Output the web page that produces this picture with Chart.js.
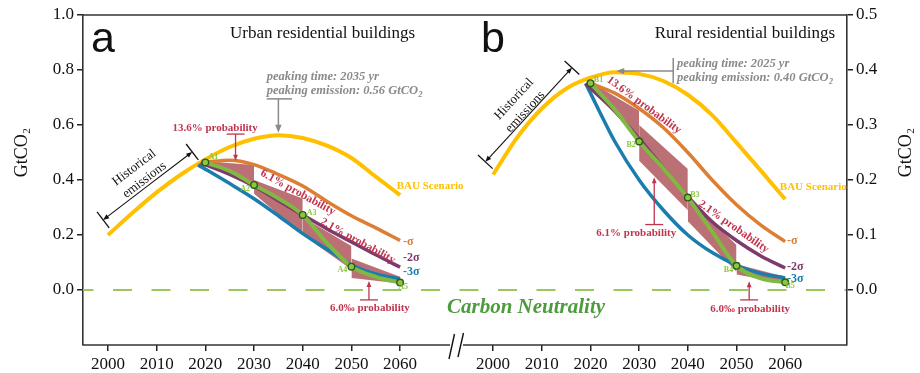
<!DOCTYPE html>
<html>
<head>
<meta charset="utf-8">
<script src="https://cdn.jsdelivr.net/npm/chart.js@4.4.1/dist/chart.umd.min.js"></script>
<style>
  html, body { margin: 0; padding: 0; background: #fff; }
  #wrap { position: relative; width: 920px; height: 373px; }
  #wrap canvas { position: absolute; left: 0; top: 0; }
</style>
</head>
<body>
<div id="wrap">
  <canvas id="urban" width="920" height="373"></canvas>
  <canvas id="rural" width="920" height="373"></canvas>
</div>
<script>
// ---- axis ticks ----
const xTickYears = [2000, 2010, 2020, 2030, 2040, 2050, 2060];
const urbanTickValues = [0, 0.2, 0.4, 0.6, 0.8, 1.0];
const ruralTickValues = [0, 0.1, 0.2, 0.3, 0.4, 0.5];

// ---- business-as-usual trajectories (GtCO2) ----
const bauYears = [2000, 2005, 2010, 2015, 2020, 2025, 2030, 2035, 2040, 2045, 2050, 2055, 2060];
const urbanBAU = [0.200, 0.280, 0.355, 0.420, 0.475, 0.520, 0.550, 0.563, 0.553, 0.525, 0.480, 0.412, 0.345];
const ruralBAU = [0.210, 0.278, 0.330, 0.366, 0.386, 0.396, 0.393, 0.380, 0.355, 0.318, 0.268, 0.217, 0.165];

// ---- -sigma scenarios ----
const pathYears = [2020, 2025, 2030, 2035, 2040, 2045, 2050, 2055, 2060];
const urbanSigma1 = [0.465, 0.472, 0.456, 0.420, 0.378, 0.322, 0.270, 0.226, 0.180];
const ruralSigma1 = [0.376, 0.358, 0.330, 0.295, 0.250, 0.200, 0.155, 0.118, 0.088];

// ---- -2 sigma scenarios ----
const sigma2Years = [2019, 2025, 2030, 2035, 2040, 2045, 2050, 2055, 2060];
const urbanSigma2 = [0.462, 0.420, 0.377, 0.325, 0.273, 0.222, 0.175, 0.128, 0.083];
const ruralSigma2 = [0.375, 0.325, 0.275, 0.222, 0.170, 0.124, 0.090, 0.062, 0.040];

// ---- -3 sigma scenarios ----
const urbanSigma3Years = [2018.5, 2025, 2030, 2035, 2040, 2045, 2050, 2055, 2060];
const urbanSigma3 = [0.455, 0.387, 0.332, 0.270, 0.205, 0.148, 0.092, 0.058, 0.040];
const ruralSigma3Years = [2019, 2022, 2025, 2030, 2035, 2040, 2045, 2050, 2055, 2060];
const ruralSigma3 = [0.376, 0.322, 0.270, 0.200, 0.145, 0.100, 0.068, 0.045, 0.030, 0.022];

// ---- optimal pathway (decade points are the named nodes) ----
const urbanPath = [0.464, 0.433, 0.382, 0.333, 0.273, 0.170, 0.085, 0.048, 0.027];
const ruralPath = [0.376, 0.328, 0.270, 0.221, 0.168, 0.106, 0.044, 0.021, 0.014];
const urbanPathNames = ['A1', 'A2', 'A3', 'A4', 'A5'];
const ruralPathNames = ['B1', 'B2', 'B3', 'B4', 'B5'];

// ---- probability bands per decade ----
const bandYears = [[2020, 2030], [2030, 2040], [2040, 2050], [2050, 2060]];
const urbanBandHigh = [[0.468, 0.455], [0.400, 0.333], [0.265, 0.160], [0.115, 0.048]];
const urbanBandLow  = [[0.462, 0.382], [0.350, 0.200], [0.200, 0.075], [0.044, 0.024]];
const ruralBandHigh = [[0.378, 0.326], [0.300, 0.220], [0.168, 0.082], [0.047, 0.024]];
const ruralBandLow  = [[0.374, 0.270], [0.235, 0.145], [0.125, 0.033], [0.028, 0.012]];

const SERIF = '"Liberation Serif", "Times New Roman", serif';
const SANS = '"Liberation Sans", Arial, sans-serif';
const COL = {
  bau: '#FFC000', s1: '#DC7F34', s2: '#7D3B6C', s3: '#1B7DAE', path: '#80B842',
  band: 'rgba(178,92,98,0.88)', red: '#C0344E', grey: '#8A8A8A',
  neutral: '#4E9A3F', zero: '#9CC75C', axis: '#333', node: '#8DC63F'
};

function series(xs, ys) { return xs.map((x, i) => ({ x: x, y: ys[i] })); }
function curve(xs, ys, color, width, order) {
  return { data: series(xs, ys), borderColor: color, borderWidth: width, pointRadius: 0,
           cubicInterpolationMode: 'monotone', fill: false, order: order };
}
function bands(highs, lows) {
  const out = [];
  bandYears.forEach((yrs, i) => {
    out.push({ data: series(yrs, highs[i]), borderWidth: 0, pointRadius: 0, fill: '+1',
               backgroundColor: COL.band, order: 10 });
    out.push({ data: series(yrs, lows[i]), borderWidth: 0, pointRadius: 0, fill: false, order: 10 });
  });
  return out;
}

// ---- drawing helpers ----
function txt(ctx, s, x, y, font, color, align, base) {
  ctx.save(); ctx.font = font; ctx.fillStyle = color;
  ctx.textAlign = align || 'left'; ctx.textBaseline = base || 'alphabetic';
  ctx.fillText(s, x, y); ctx.restore();
}
function rotTxt(ctx, s, x, y, deg, font, color) {
  ctx.save(); ctx.translate(x, y); ctx.rotate(deg * Math.PI / 180);
  ctx.font = font; ctx.fillStyle = color; ctx.textAlign = 'center'; ctx.textBaseline = 'middle';
  ctx.fillText(s, 0, 0); ctx.restore();
}
function subTxt(ctx, main, sub, x, y, size, style, color, align) {
  ctx.save(); ctx.fillStyle = color; ctx.textBaseline = 'alphabetic'; ctx.textAlign = 'left';
  ctx.font = style + ' ' + size + 'px ' + SERIF;
  const w1 = ctx.measureText(main).width;
  ctx.font = style + ' ' + Math.round(size * 0.62) + 'px ' + SERIF;
  const w2 = ctx.measureText(sub).width;
  let x0 = align === 'center' ? x - (w1 + w2) / 2 : x;
  ctx.font = style + ' ' + size + 'px ' + SERIF;
  ctx.fillText(main, x0, y);
  ctx.font = style + ' ' + Math.round(size * 0.62) + 'px ' + SERIF;
  ctx.fillText(sub, x0 + w1 + 0.5, y + size * 0.22);
  ctx.restore();
}
function head(ctx, x1, y1, x2, y2, size, color) {
  const a = Math.atan2(y2 - y1, x2 - x1), c = Math.cos(a), s = Math.sin(a);
  ctx.save(); ctx.fillStyle = color; ctx.beginPath();
  ctx.moveTo(x2, y2);
  ctx.lineTo(x2 - size * c + size * 0.4 * s, y2 - size * s - size * 0.4 * c);
  ctx.lineTo(x2 - size * c - size * 0.4 * s, y2 - size * s + size * 0.4 * c);
  ctx.closePath(); ctx.fill(); ctx.restore();
}
function line(ctx, x1, y1, x2, y2, color, width) {
  ctx.save(); ctx.strokeStyle = color; ctx.lineWidth = width;
  ctx.beginPath(); ctx.moveTo(x1, y1); ctx.lineTo(x2, y2); ctx.stroke(); ctx.restore();
}
function arrow(ctx, x1, y1, x2, y2, color, width, size) {
  const a = Math.atan2(y2 - y1, x2 - x1);
  line(ctx, x1, y1, x2 - size * 0.7 * Math.cos(a), y2 - size * 0.7 * Math.sin(a), color, width);
  head(ctx, x1, y1, x2, y2, size, color);
}
// pointer with a flat bar at its tail
function tBar(ctx, cx, barY, tipY, half, color) {
  line(ctx, cx - half, barY, cx + half, barY, color, 1.3);
  arrow(ctx, cx, barY, cx, tipY, color, 1.3, 6);
}
// double-headed span with end stops
function span(ctx, p1, p2) {
  const a = Math.atan2(p2[1] - p1[1], p2[0] - p1[0]);
  const nx = -Math.sin(a), ny = Math.cos(a), L = 10;
  const mx = (p1[0] + p2[0]) / 2, my = (p1[1] + p2[1]) / 2;
  arrow(ctx, mx, my, p1[0], p1[1], '#111', 1.1, 6);
  arrow(ctx, mx, my, p2[0], p2[1], '#111', 1.1, 6);
  [p1, p2].forEach(p => line(ctx, p[0] - nx * L, p[1] - ny * L, p[0] + nx * L, p[1] + ny * L, '#111', 1.3));
}
function yTitle(ctx, x, y) {
  ctx.save(); ctx.translate(x, y); ctx.rotate(-Math.PI / 2);
  ctx.fillStyle = '#111'; ctx.textBaseline = 'middle'; ctx.textAlign = 'left';
  ctx.font = '18px ' + SERIF; const w1 = ctx.measureText('GtCO').width;
  ctx.font = '11px ' + SERIF; const w2 = ctx.measureText('2').width;
  const x0 = -(w1 + w2) / 2;
  ctx.font = '18px ' + SERIF; ctx.fillText('GtCO', x0, 0);
  ctx.font = '11px ' + SERIF; ctx.fillText('2', x0 + w1 + 0.5, 5);
  ctx.restore();
}
function nodeLabels(chart, names, offsets) {
  const meta = chart.getDatasetMeta(0);
  let k = 0;
  meta.data.forEach((el, i) => {
    if (chart.data.datasets[0].data[i].x % 10 !== 0) return;
    const o = offsets[k];
    txt(chart.ctx, names[k], el.x + o[0], el.y + o[1], 'bold 8px ' + SERIF, COL.node, 'center', 'middle');
    k++;
  });
}

function drawUrban(chart) {
  const ctx = chart.ctx, a = chart.chartArea;
  const P = (x, y) => [chart.scales.x.getPixelForValue(x), chart.scales.y.getPixelForValue(y)];
  // frame
  line(ctx, a.left, a.top, a.right, a.top, COL.axis, 1.6);
  line(ctx, a.left, a.bottom, 450, a.bottom, COL.axis, 1.6);
  line(ctx, 449, 359, 454.5, 334, '#111', 1.4);
  line(ctx, 458, 357, 463.5, 333, '#111', 1.4);
  // titles
  txt(ctx, 'a', 91, 52, '43px ' + SANS, '#111');
  txt(ctx, 'Urban residential buildings', 230, 38, '17px ' + SERIF, '#111');
  yTitle(ctx, 22, 153);
  // peak annotation
  subTxt(ctx, 'peaking time: 2035 yr', '', ...P(2032.6, 0.764), 12.5, 'italic bold', COL.grey);
  subTxt(ctx, 'peaking emission: 0.56 GtCO', '2', ...P(2032.6, 0.713), 12.5, 'italic bold', COL.grey);
  const b1 = P(2032.6, 0.695), b2 = P(2037.8, 0.695), pk = P(2035, 0.572);
  line(ctx, b1[0], b1[1], b2[0], b2[1], COL.grey, 1.5);
  arrow(ctx, pk[0], b1[1], pk[0], pk[1], COL.grey, 1.5, 8);
  // historical span
  span(ctx, P(1999, 0.255), P(2017.3, 0.502));
  rotTxt(ctx, 'Historical', ...P(2005.4, 0.445), -37.4, '13px ' + SERIF, '#111');
  rotTxt(ctx, 'emissions', ...P(2007.5, 0.400), -37.4, '13px ' + SERIF, '#111');
  // probabilities
  txt(ctx, '13.6% probability', ...P(2022.0, 0.578), 'bold 11px ' + SERIF, COL.red, 'center');
  const t1 = P(2026.2, 0.567), t1tip = P(2026.2, 0.470);
  tBar(ctx, t1[0], t1[1], t1tip[1], 9, COL.red);
  rotTxt(ctx, '6.1% probability', ...P(2039.0, 0.3545), 28.7, 'bold 11.5px ' + SERIF, COL.red);
  rotTxt(ctx, '2.1% probability', ...P(2051.3, 0.178), 28.7, 'bold 11.5px ' + SERIF, COL.red);
  txt(ctx, '6.0\u2030 probability', ...P(2053.8, -0.078), 'bold 11px ' + SERIF, COL.red, 'center');
  const t2 = P(2053.6, -0.036), t2tip = P(2053.6, 0.033);
  tBar(ctx, t2[0], t2[1], t2tip[1], 9, COL.red);
  // scenario labels
  txt(ctx, 'BAU Scenario', ...P(2059.3, 0.367), 'bold 11px ' + SERIF, COL.bau);
  txt(ctx, '-\u03c3', ...P(2060.6, 0.164), 'bold 12px ' + SERIF, COL.s1);
  txt(ctx, '-2\u03c3', ...P(2060.6, 0.105), 'bold 12px ' + SERIF, COL.s2);
  txt(ctx, '-3\u03c3', ...P(2060.6, 0.055), 'bold 12px ' + SERIF, COL.s3);
  nodeLabels(chart, urbanPathNames, [[8, -5], [-9, 4], [9, -2], [-9, 3], [3, 4]]);
  // carbon neutrality label
  txt(ctx, 'Carbon Neutrality', 526, 308, 'italic bold 21px ' + SERIF, COL.neutral, 'center', 'middle');
}

function drawRural(chart) {
  const ctx = chart.ctx, a = chart.chartArea;
  const P = (x, y) => [chart.scales.x.getPixelForValue(x), chart.scales.y.getPixelForValue(y)];
  line(ctx, a.left, a.top, a.right, a.top, COL.axis, 1.6);
  line(ctx, 463, a.bottom, a.right, a.bottom, COL.axis, 1.6);
  txt(ctx, 'b', 481, 52, '43px ' + SANS, '#111');
  txt(ctx, 'Rural residential buildings', 835, 38, '17px ' + SERIF, '#111', 'right');
  yTitle(ctx, 906, 153);
  // peak annotation
  subTxt(ctx, 'peaking time: 2025 yr', '', ...P(2037.8, 0.405), 12.5, 'italic bold', COL.grey);
  subTxt(ctx, 'peaking emission: 0.40 GtCO', '2', ...P(2037.8, 0.380), 12.5, 'italic bold', COL.grey);
  const v1 = P(2037.0, 0.422), v2 = P(2037.0, 0.376), pk = P(2025.3, 0.398);
  line(ctx, v1[0], v1[1], v2[0], v2[1], COL.grey, 1.5);
  arrow(ctx, v1[0], pk[1], pk[0], pk[1], COL.grey, 1.5, 8);
  // historical span
  span(ctx, P(1998.4, 0.233), P(2016.2, 0.404));
  rotTxt(ctx, 'Historical', ...P(2004.3, 0.347), -47.2, '13px ' + SERIF, '#111');
  rotTxt(ctx, 'emissions', ...P(2006.6, 0.324), -47.2, '13px ' + SERIF, '#111');
  // probabilities
  rotTxt(ctx, '13.6% probability', ...P(2031.0, 0.336), 36.3, 'bold 11.5px ' + SERIF, COL.red);
  rotTxt(ctx, '2.1% probability', ...P(2049.4, 0.115), 35, 'bold 11.5px ' + SERIF, COL.red);
  txt(ctx, '6.1% probability', ...P(2029.4, 0.098), 'bold 11px ' + SERIF, COL.red, 'center');
  const t1 = P(2033.1, 0.119), t1tip = P(2033.1, 0.205);
  tBar(ctx, t1[0], t1[1], t1tip[1], 9, COL.red);
  txt(ctx, '6.0\u2030 probability', ...P(2052.8, -0.040), 'bold 11px ' + SERIF, COL.red, 'center');
  const t2 = P(2052.6, -0.018), t2tip = P(2052.6, 0.016);
  tBar(ctx, t2[0], t2[1], t2tip[1], 9, COL.red);
  txt(ctx, 'BAU Scenario', ...P(2058.9, 0.182), 'bold 11px ' + SERIF, COL.bau);
  txt(ctx, '-\u03c3', ...P(2060.4, 0.084), 'bold 12px ' + SERIF, COL.s1);
  txt(ctx, '-2\u03c3', ...P(2060.4, 0.036), 'bold 12px ' + SERIF, COL.s2);
  txt(ctx, '-3\u03c3', ...P(2060.4, 0.015), 'bold 12px ' + SERIF, COL.s3);
  nodeLabels(chart, ruralPathNames, [[8, -3], [-8, 3], [7, -3], [-8, 4], [5, 4]]);
}

// zero-emission reference line across both panels
const zeroLine = {
  id: 'zeroLine',
  beforeDatasetsDraw(chart) {
    const ctx = chart.ctx, a = chart.chartArea, y0 = chart.scales.y.getPixelForValue(0);
    ctx.save(); ctx.strokeStyle = COL.zero; ctx.lineWidth = 1.8;
    ctx.setLineDash([19, 19.5]); ctx.lineDashOffset = 8.5;
    ctx.beginPath(); ctx.moveTo(a.left, y0); ctx.lineTo(847, y0); ctx.stroke(); ctx.restore();
  }
};

function makePanel(id, opt) {
  const datasets = [
    Object.assign(curve(pathYears, opt.path, COL.path, 4, 1), {
      pointRadius: c => (c.raw && c.raw.x % 10 === 0) ? 3.3 : 0,
      pointBackgroundColor: COL.node, pointBorderColor: '#2E5A1C', pointBorderWidth: 1.4
    }),
    curve(sigma2Years, opt.s2, COL.s2, 3.5, 2),
    curve(opt.s3Years, opt.s3, COL.s3, 3.5, 3),
    curve(pathYears, opt.s1, COL.s1, 3.5, 4),
    ...bands(opt.high, opt.low),
    curve(bauYears, opt.bau, COL.bau, 4, 20)
  ];
  const tickFont = { family: SERIF, size: 17 };
  const grid = { display: true, drawOnChartArea: false, drawTicks: true, tickLength: 6, color: '#222', lineWidth: 1.5 };
  return new Chart(document.getElementById(id), {
    type: 'line',
    data: { datasets: datasets },
    options: {
      responsive: false, animation: false, devicePixelRatio: 1,
      layout: { padding: opt.padding },
      plugins: { legend: { display: false }, tooltip: { enabled: false } },
      scales: {
        x: {
          type: 'linear', min: opt.xMin, max: opt.xMax,
          afterBuildTicks: s => { s.ticks = xTickYears.map(v => ({ value: v })); },
          afterFit: s => { s.height = 28; },
          grid: grid, border: { display: false },
          ticks: { font: tickFont, color: '#111', padding: 3, maxRotation: 0, autoSkip: false, callback: v => String(v) }
        },
        y: {
          type: 'linear', position: opt.yPos, min: opt.yMin, max: opt.yMax,
          afterBuildTicks: s => { s.ticks = opt.ticks.map(v => ({ value: v })); },
          afterFit: s => { s.width = opt.yWidth; },
          grid: grid, border: { display: true, color: COL.axis, width: 1.6 },
          ticks: { font: tickFont, color: '#111', padding: 3, callback: v => v.toFixed(1) }
        }
      }
    },
    plugins: opt.plugins
  });
}

makePanel('urban', {
  path: urbanPath, s1: urbanSigma1, s2: urbanSigma2, s3Years: urbanSigma3Years, s3: urbanSigma3,
  high: urbanBandHigh, low: urbanBandLow, bau: urbanBAU,
  xMin: 1994.87, xMax: 2072.3, yMin: -0.2, yMax: 1.0, ticks: urbanTickValues,
  yPos: 'left', yWidth: 83, padding: { left: 0, top: 15, right: 460, bottom: 0 },
  plugins: [zeroLine, { id: 'urbanDecor', afterDatasetsDraw: drawUrban }]
});
makePanel('rural', {
  path: ruralPath, s1: ruralSigma1, s2: ruralSigma2, s3Years: ruralSigma3Years, s3: ruralSigma3,
  high: ruralBandHigh, low: ruralBandLow, bau: ruralBAU,
  xMin: 1993.2, xMax: 2072.7, yMin: -0.1, yMax: 0.5, ticks: ruralTickValues,
  yPos: 'right', yWidth: 73, padding: { left: 460, top: 15, right: 0, bottom: 0 },
  plugins: [{ id: 'ruralDecor', afterDatasetsDraw: drawRural }]
});
</script>
</body>
</html>
